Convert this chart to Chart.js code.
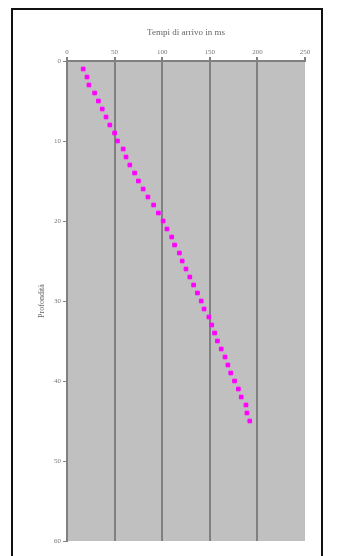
<!DOCTYPE html>
<html>
<head>
<meta charset="utf-8">
<script src="https://cdn.jsdelivr.net/npm/chart.js@4.4.0/dist/chart.umd.min.js"></script>
<style>
    html, body { margin: 0; padding: 0; background: #ffffff; }
    #cornice {
        position: absolute; left: 11px; top: 8px; width: 308px; height: 560px;
        border: 2px solid #111111; border-bottom: none;
    }
    #grafico { position: absolute; left: 0; top: 0; }
</style>
</head>
<body>
<div id="cornice"></div>
<canvas id="grafico" width="337" height="556"></canvas>
<script>
// profondità in metri e tempi di arrivo in ms
var profondita = [1, 2, 3, 4, 5, 6, 7, 8, 9, 10, 11, 12, 13, 14, 15, 16, 17, 18, 19, 20,
    21, 22, 23, 24, 25, 26, 27, 28, 29, 30, 31, 32, 33, 34, 35, 36, 37, 38, 39, 40,
    41, 42, 43, 44, 45];
var tempi = [17, 21, 23, 29, 33, 37, 41, 45, 50, 53, 59, 62, 66, 71, 75, 80, 85, 91, 96, 101,
    105, 110, 113, 118, 121, 125, 129, 133, 137, 141, 144, 149, 152, 155, 158, 162, 166, 169, 172, 176,
    180, 183, 188, 189, 192];
var tickTempi = [0, 50, 100, 150, 200, 250];
var tickProfondita = [0, 10, 20, 30, 40, 50, 60];

function puntiGrafico() {
    var punti = [];
    for (var i in profondita) {
        punti.push({x: tempi[i], y: profondita[i]});
    }
    return punti;
}

var sfondoArea = {
    id: 'sfondoArea',
    beforeDraw: function (chart) {
        var a = chart.chartArea;
        var ctx = chart.ctx;
        ctx.save();
        ctx.fillStyle = '#c0c0c0';
        ctx.fillRect(a.left, a.top, a.right - a.left, a.bottom - a.top);
        ctx.restore();
    }
};

var fontPiccolo = {family: 'Liberation Serif', size: 7};

var config = {
    type: 'scatter',
    data: {
        datasets: [{
            data: puntiGrafico(),
            backgroundColor: '#ff00ff',
            borderColor: '#ff00ff',
            pointStyle: 'rect',
            pointRadius: 2.6,
            pointHoverRadius: 2.6,
            label: 'Tempi'
        }]
    },
    options: {
        responsive: false,
        animation: false,
        layout: {padding: {left: 37, right: 32, top: 27, bottom: 15}},
        plugins: {legend: {display: false}, tooltip: {enabled: false}},
        scales: {
            x: {
                type: 'linear',
                position: 'top',
                min: 0,
                max: 250,
                afterBuildTicks: function (s) {
                    s.ticks = tickTempi.map(function (v) { return {value: v}; });
                },
                afterFit: function (s) { s.height = 34; },
                title: {
                    display: true,
                    text: 'Tempi di arrivo in ms',
                    color: '#666666',
                    font: {family: 'Liberation Serif', size: 9},
                    padding: {top: 0, bottom: 4}
                },
                ticks: {color: '#777777', font: fontPiccolo, padding: 1},
                grid: {
                    color: function (c) { return c.tick && c.tick.value === 250 ? 'rgba(0,0,0,0)' : '#808080'; },
                    tickColor: '#808080',
                    lineWidth: 2,
                    tickLength: 4
                },
                border: {color: '#808080', width: 2}
            },
            y: {
                type: 'linear',
                reverse: true,
                min: 0,
                max: 60,
                afterBuildTicks: function (s) {
                    s.ticks = tickProfondita.map(function (v) { return {value: v}; });
                },
                afterFit: function (s) { s.width = 30; },
                title: {
                    display: true,
                    text: 'Profondità',
                    color: '#666666',
                    font: {family: 'Liberation Serif', size: 8},
                    padding: {top: 0, bottom: 4}
                },
                ticks: {color: '#777777', font: fontPiccolo, padding: 2},
                grid: {drawOnChartArea: false, tickColor: '#808080', tickLength: 4},
                border: {color: '#808080', width: 2}
            }
        }
    },
    plugins: [sfondoArea]
};

var ctx = document.getElementById('grafico').getContext('2d');
window.grafico = new Chart(ctx, config);
</script>
</body>
</html>
